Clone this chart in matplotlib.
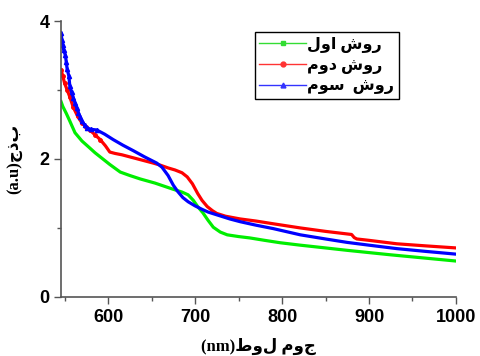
import matplotlib
matplotlib.use('Agg')
import matplotlib.pyplot as plt
from matplotlib.lines import Line2D

# wavelength (nm) / absorbance (a.u)
wl_green = [546, 548, 552, 556, 562, 570, 578, 585, 595, 602, 614, 625, 637, 654, 675, 685, 692, 698,
            703, 709, 715, 721, 729, 737, 750, 763, 780, 798, 821, 850, 875, 898, 925, 950, 975, 1000]
ab_green = [2.83, 2.76, 2.66, 2.55, 2.38, 2.26, 2.17, 2.09, 1.99, 1.92, 1.81, 1.76, 1.71, 1.65, 1.56, 1.52, 1.48,
            1.40, 1.31, 1.22, 1.11, 1.01, 0.94, 0.90, 0.875, 0.855, 0.82, 0.785, 0.75, 0.71, 0.675, 0.645, 0.61,
            0.58, 0.55, 0.52]

wl_red = [546, 548, 550, 553, 556, 560, 565, 570, 575, 579, 585, 591, 597, 602, 608, 616, 625, 637, 652, 660,
          669, 677, 685, 691, 697, 703, 708, 714, 720, 725, 735, 752, 770, 790, 821, 850, 870, 880, 883, 886, 900,
          932, 965, 1000]
ab_red = [3.29, 3.2, 3.1, 3.0, 2.9, 2.75, 2.62, 2.52, 2.46, 2.42, 2.35, 2.28, 2.19, 2.10, 2.08, 2.06, 2.03, 1.99,
          1.94, 1.91, 1.87, 1.84, 1.80, 1.74, 1.64, 1.50, 1.40, 1.31, 1.25, 1.21, 1.17, 1.13, 1.10, 1.06, 1.00, 0.95,
          0.92, 0.905, 0.86, 0.84, 0.82, 0.77, 0.74, 0.71]

wl_blue = [546, 547, 548, 549, 551, 552, 553, 555, 556, 558, 560, 562, 564, 566, 568, 570, 573, 576, 580, 587,
           596, 606, 617, 629, 642, 656, 662, 669, 675, 680, 686, 692, 700, 708, 715, 725, 740, 752, 770, 790, 821,
           850, 875, 900, 932, 965, 1000]
ab_blue = [3.82, 3.72, 3.65, 3.58, 3.50, 3.40, 3.30, 3.20, 3.06, 2.97, 2.89, 2.81, 2.74, 2.67, 2.61, 2.55, 2.49,
           2.45, 2.43, 2.42, 2.36, 2.28, 2.20, 2.12, 2.03, 1.94, 1.88, 1.76, 1.62, 1.53, 1.44, 1.38, 1.32, 1.27,
           1.23, 1.19, 1.13, 1.09, 1.04, 0.99, 0.90, 0.84, 0.79, 0.75, 0.70, 0.66, 0.62]

# legend labels (third one written with joined forms for سو)
labels = ['روش اول', 'روش دوم', 'روش  \ufeb3\ufeeeم']
xlabel = '(nm)طول موج'
ylabel = '(a.u)جذب'

arabic = ['Liberation Serif', 'DejaVu Sans']

fig = plt.figure(figsize=(4.81, 3.56), dpi=100)
ax = fig.add_axes([0.127, 0.166, 0.821, 0.775])

ax.plot(wl_green, ab_green, color='#00ee00', lw=2.3)
ax.plot(wl_red, ab_red, color='#ff0000', lw=2.3, marker='o', ms=2.5, markevery=slice(0, 12))
ax.plot(wl_blue, ab_blue, color='#0000ff', lw=2.3, marker='^', ms=3, markevery=slice(0, 20))

ax.set_xlim(546, 1000)
ax.set_ylim(0, 4)
ax.set_xticks([600, 700, 800, 900, 1000])
ax.set_xticks([550, 650, 750, 850, 950], minor=True)
ax.set_yticks([0, 2, 4])
ax.set_yticks([1, 3], minor=True)
for s in ['top', 'right']:
    ax.spines[s].set_visible(False)
for s in ['left', 'bottom']:
    ax.spines[s].set_color('#555555')
    ax.spines[s].set_linewidth(1.2)
ax.tick_params(which='major', length=5, width=1, color='#555555', direction='out')
ax.tick_params(which='minor', length=3, width=1, color='#555555', direction='out')
for t in ax.get_xticklabels() + ax.get_yticklabels():
    t.set_fontfamily('Liberation Sans')
    t.set_fontweight('bold')
    t.set_fontsize(13)

ax.set_xlabel(xlabel, family=arabic, fontweight='bold', fontsize=12, labelpad=9)
ax.set_ylabel(ylabel, family=arabic, fontweight='bold', fontsize=12, labelpad=12)

handles = [Line2D([], [], color='#33dd33', lw=1, marker='s', ms=3.5),
           Line2D([], [], color='#ff3333', lw=1, marker='o', ms=3.5),
           Line2D([], [], color='#3333ff', lw=1, marker='^', ms=3.5)]
leg = ax.legend(handles, [l[::-1] for l in labels], loc='upper left', bbox_to_anchor=(0.49, 0.96),
                borderaxespad=0, fancybox=False, edgecolor='black', framealpha=1, handlelength=2.9,
                handletextpad=0.1, borderpad=0.3, labelspacing=0.3,
                prop={'family': arabic, 'weight': 'bold', 'size': 11.5})
leg.get_frame().set_linewidth(1)

fig.savefig('out.png', dpi=100)
